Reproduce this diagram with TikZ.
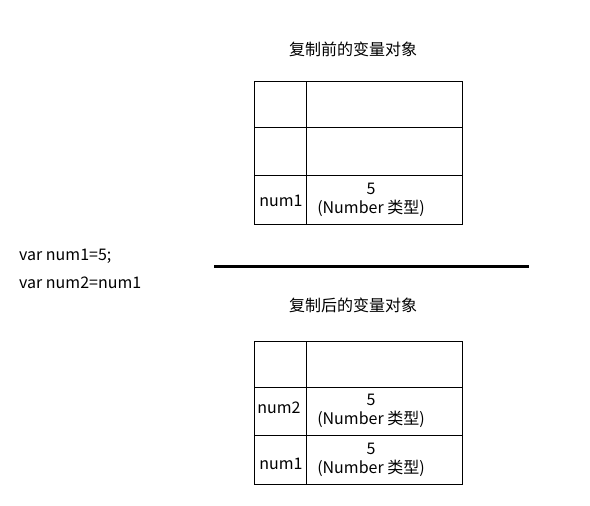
\documentclass[tikz,border=0pt]{standalone}
\usepackage{fontspec}
\setmainfont{Noto Sans CJK SC}
\usetikzlibrary{positioning}

\begin{document}
\begin{tikzpicture}[x=1pt,y=-1pt,
  every node/.style={font=\fontsize{16}{19}\selectfont, inner sep=0pt},
  cell/.style={color=black, line width=1pt}]
\useasboundingbox (0,0) rectangle (590,506);

% code on the left
\node[anchor=west] (code1) at (19,256) {var num1=5;};
\node[anchor=west] (code2) at (19,283) {var num2=num1};

% before the copy
\node (title1) at (353,49) {复制前的变量对象};
\draw[cell] (254,81) rectangle (462,224);
\draw[cell] (306,81) -- (306,224);
\draw[cell] (254,127) -- (462,127);
\draw[cell] (254,175) -- (462,175);
\node (name1) at (281,201) {num1};
\node[align=center] (val1) at (371,200) {5\\(Number 类型)};

\draw[color=black, line width=3pt] (214,266) -- (529,266);

% after the copy
\node (title2) at (353,305) {复制后的变量对象};
\draw[cell] (254,341) rectangle (462,484);
\draw[cell] (306,341) -- (306,484);
\draw[cell] (254,387) -- (462,387);
\draw[cell] (254,435) -- (462,435);
\node (name2b) at (279,408) {num2};
\node[align=center] (val2b) at (371,411) {5\\(Number 类型)};
\node (name1b) at (281,464) {num1};
\node[align=center] (val1b) at (371,460) {5\\(Number 类型)};
\end{tikzpicture}
\end{document}
